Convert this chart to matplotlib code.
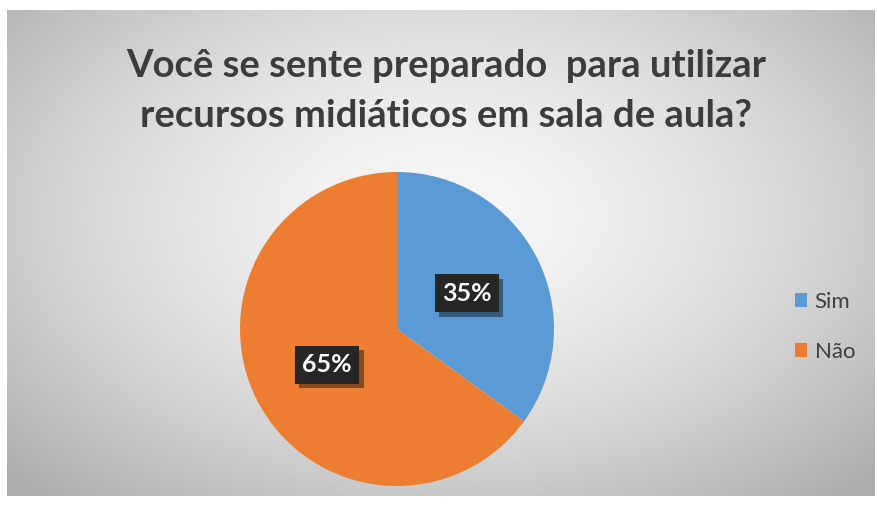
import numpy as np
import matplotlib.pyplot as plt
import matplotlib.patheffects as pe

# dados
labels = ['Sim', 'Não']
valores = [35, 65]
cores = ['#5B9BD5', '#ED7D31']
titulo = 'Você se sente preparado  para utilizar\nrecursos midiáticos em sala de aula?'

plt.rcParams['font.family'] = ['Lato', 'DejaVu Sans']

fig = plt.figure(figsize=(8.78, 5.13), dpi=100)
fig.patch.set_facecolor('white')

# fundo com gradiente radial
bg = fig.add_axes([7 / 878, 17 / 513, 868 / 878, 486 / 513])
yy, xx = np.mgrid[-1:1:300j, -1:1:500j]
r = np.sqrt((xx * 0.95) ** 2 + ((yy + 0.15) * 0.85) ** 2)
g = 0.97 - 0.19 * np.clip(r, 0, 1.3) ** 1.6
bg.imshow(np.dstack([g, g, g]), aspect='auto', extent=[0, 1, 0, 1], interpolation='bicubic')
bg.set_xlim(0, 1)
bg.set_ylim(0, 1)
bg.axis('off')

# pizza
ax = fig.add_axes([(397 - 157) / 878, (513 - 329 - 157) / 513, 314 / 878, 314 / 513])
wedges, texts, autotexts = ax.pie(valores, colors=cores, startangle=90, counterclock=False,
                                  autopct='%1.0f%%', pctdistance=0.5,
                                  wedgeprops=dict(edgecolor='none'))
for t in autotexts:
    t.set_color('white')
    t.set_fontsize(18)
    t.set_fontweight('bold')
    t.set_bbox(dict(boxstyle='square,pad=0.3', facecolor='#262626', edgecolor='none'))
    t.get_bbox_patch().set_path_effects([pe.SimplePatchShadow(offset=(3, -3), alpha=0.45), pe.Normal()])
ax.set_xlim(-1, 1)
ax.set_ylim(-1, 1)
ax.set_aspect('equal')
ax.axis('off')

fig.text(0.508, 0.823, titulo, ha='center', va='center', fontsize=27.5, fontweight='bold',
         color='#3c3c3c', linespacing=1.55)

leg = fig.legend(wedges, labels, loc='center left', bbox_to_anchor=(0.905, 0.363),
                 frameon=False, fontsize=16, handlelength=0.55, handleheight=0.55,
                 handletextpad=0.35, labelspacing=1.35, borderpad=0, borderaxespad=0)
for t in leg.get_texts():
    t.set_color('#404040')

fig.savefig('out.png', dpi=100)
